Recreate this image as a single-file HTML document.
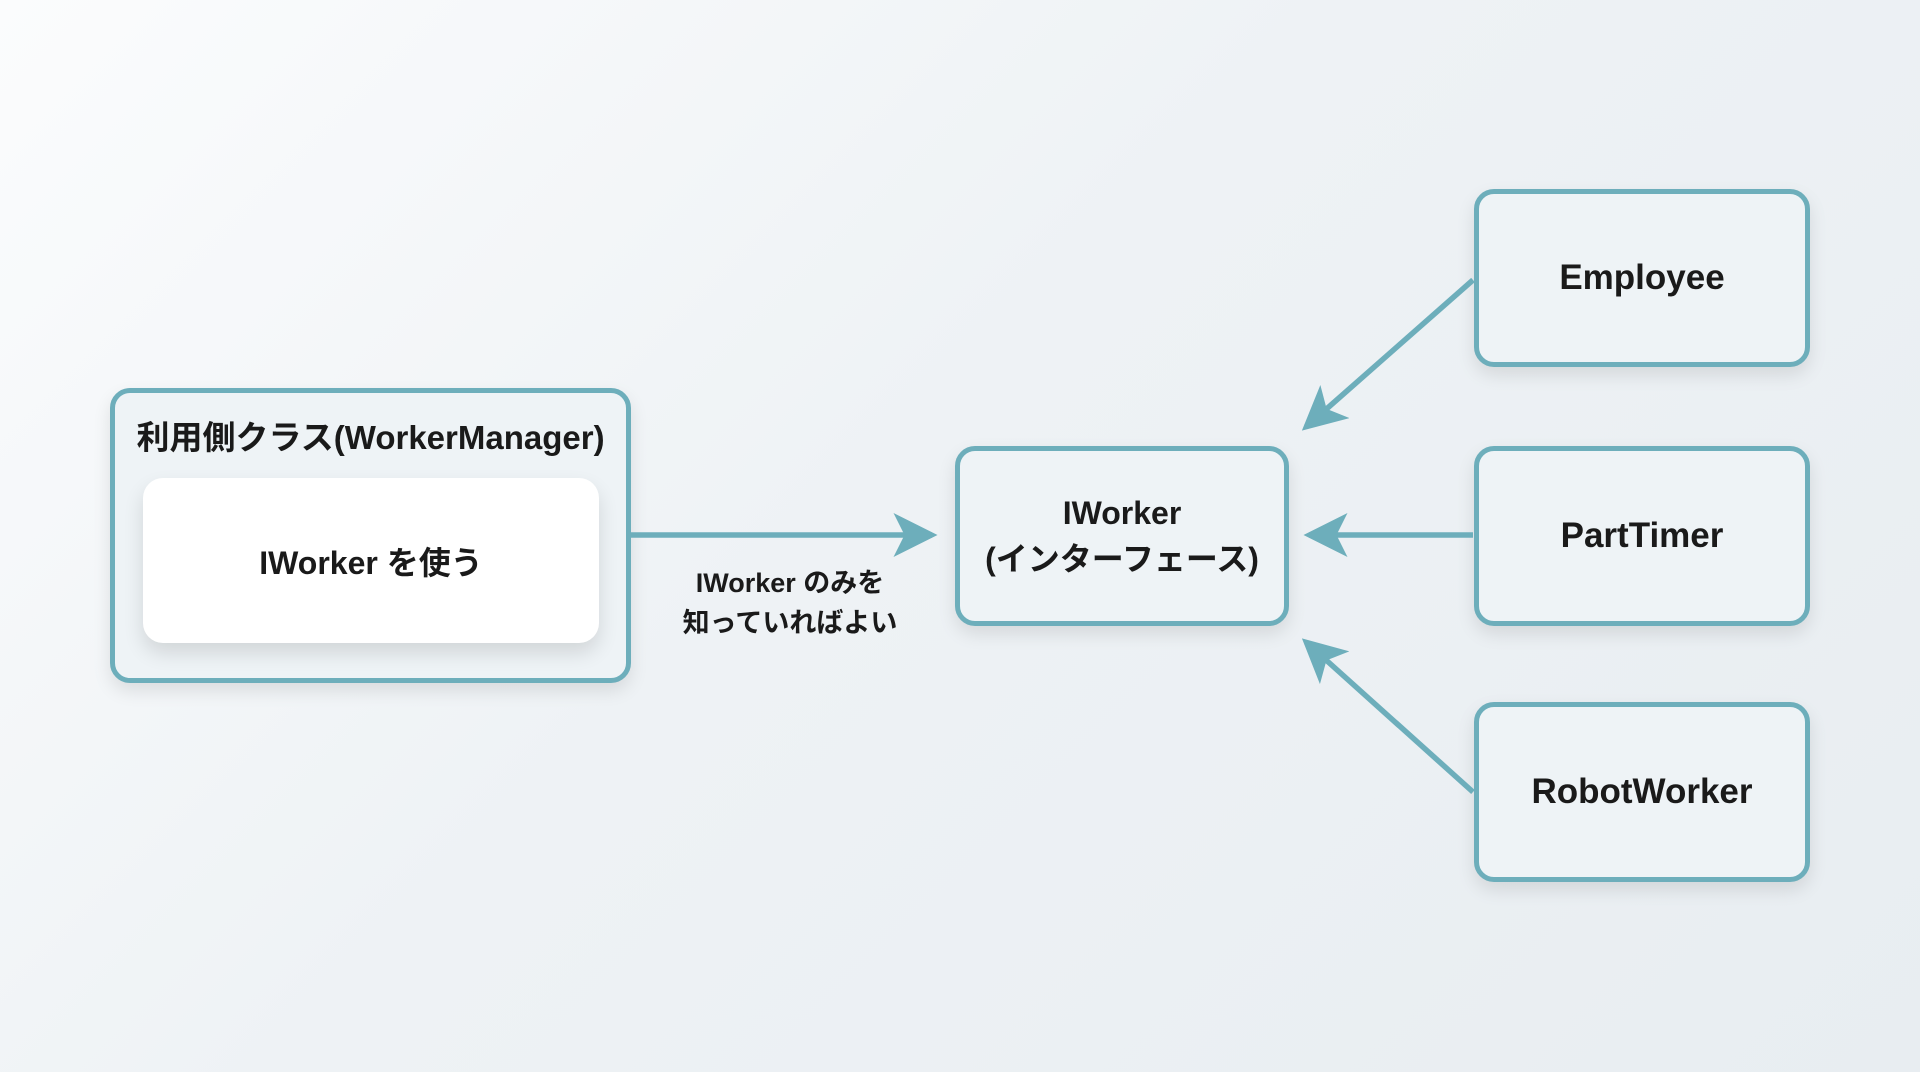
<!DOCTYPE html>
<html><head><meta charset="utf-8"><style>
body{margin:0;width:1920px;height:1072px;overflow:hidden;background:linear-gradient(135deg,#fbfcfd 0%,#eef2f5 45%,#e8edf1 100%);font-family:"Liberation Sans","Noto Sans CJK JP",sans-serif;font-weight:bold;color:#1a1a1a;position:relative}
.box{position:absolute;box-sizing:border-box;border:5px solid #6daebb;border-radius:20px;background:#eef3f6;box-shadow:0 8px 18px rgba(0,0,0,0.10);display:flex;align-items:center;justify-content:center;text-align:center}
.t{position:absolute;text-align:center;white-space:nowrap}
</style></head><body>
<div class="box" style="left:110px;top:388px;width:521px;height:295px;display:block"></div>
<div class="t" style="left:110px;width:521px;top:411px;font-size:33px">利用側クラス(WorkerManager)</div>
<div class="box" style="left:143px;top:478px;width:456px;height:165px;border:none;background:#fff;box-shadow:0 10px 20px rgba(0,0,0,0.12);font-size:32px">IWorker を使う</div>
<div class="box" style="left:955px;top:446px;width:334px;height:180px;font-size:32px;line-height:46px">IWorker<br>(インターフェース)</div>
<div class="box" style="left:1474px;top:189px;width:336px;height:178px;font-size:35px">Employee</div>
<div class="box" style="left:1474px;top:446px;width:336px;height:180px;font-size:35px">PartTimer</div>
<div class="box" style="left:1474px;top:702px;width:336px;height:180px;font-size:35px">RobotWorker</div>
<div class="t" style="left:640px;width:300px;top:563px;font-size:27px;line-height:40px">IWorker のみを<br>知っていればよい</div>
<svg width="1920" height="1072" style="position:absolute;left:0;top:0">
<defs><marker id="a" markerWidth="8" markerHeight="8" refX="7" refY="4" orient="auto" markerUnits="strokeWidth"><path d="M0,0 L8,4 L0,8 L2,4 Z" fill="#6daebb"/></marker></defs>
<g stroke="#6daebb" stroke-width="5.5" fill="none" marker-end="url(#a)">
<line x1="631" y1="535" x2="932" y2="535"/>
<line x1="1473" y1="280" x2="1306" y2="427"/>
<line x1="1473" y1="535" x2="1309" y2="535"/>
<line x1="1473" y1="792" x2="1306" y2="642"/>
</g></svg>
</body></html>
